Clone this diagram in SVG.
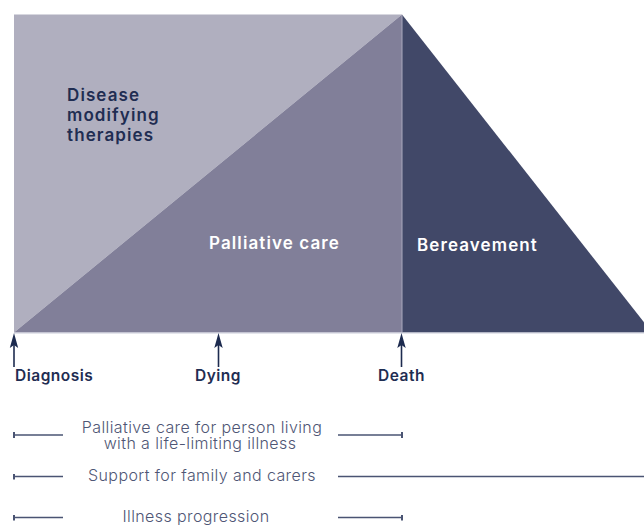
<svg xmlns="http://www.w3.org/2000/svg" width="644" height="525" viewBox="0 0 644 525">
<defs>
<style>
.lbl{font-family:Inter,"Open Sans","Liberation Sans",sans-serif;font-weight:600;font-size:17px;letter-spacing:1.1px;fill:#1f2d52}
.wl{fill:#ffffff}
.ev{font-family:Inter,"Open Sans","Liberation Sans",sans-serif;font-weight:600;font-size:15.5px;letter-spacing:0.5px;fill:#1f2d52}
.bt{font-family:Inter,"Open Sans","Liberation Sans",sans-serif;font-weight:300;font-size:16px;letter-spacing:0.4px;fill:#4f5675;text-anchor:middle}
.ln{stroke:#4a5473;stroke-width:1.5;fill:none}
.arr{stroke:#1d2b4f;stroke-width:1.6;fill:none}
</style>
<marker id="tick" markerWidth="2" markerHeight="6" refX="1" refY="3" orient="auto" markerUnits="userSpaceOnUse">
<rect x="0" y="0" width="2" height="6" fill="#4a5473"/>
</marker>
<path id="head" d="M0,0 L4.2,15 L0,12 L-4.2,15 Z" fill="#1d2b4f"/>
</defs>
<g id="disease-modifying">
<polygon points="14,14.5 402,14.5 14,332.5" fill="#b0afbf"/>
<text class="lbl" x="67" y="101">Disease</text>
<text class="lbl" x="67" y="121">modifying</text>
<text class="lbl" x="67" y="141">therapies</text>
</g>
<g id="palliative-care">
<polygon points="402,14.5 402,332.5 14,332.5" fill="#817f99"/>
<text class="lbl wl" x="209" y="249">Palliative care</text>
</g>
<g id="bereavement">
<polygon points="402,14.5 652,332.5 402,332.5" fill="#414868"/>
<text class="lbl wl" x="417" y="251">Bereavement</text>
</g>
<g id="dividers">
<line x1="402" y1="15" x2="402" y2="332.5" stroke="#a9a9bd" stroke-width="1"/>
<line x1="14" y1="333" x2="644" y2="333" stroke="#c9cbd9" stroke-width="1"/>
</g>
<g id="diagnosis">
<line class="arr" x1="14" y1="342" x2="14" y2="367"/>
<use href="#head" x="14" y="333"/>
<text class="ev" x="15" y="381">Diagnosis</text>
</g>
<g id="dying">
<line class="arr" x1="218.5" y1="342" x2="218.5" y2="367"/>
<use href="#head" x="218.5" y="333"/>
<text class="ev" x="195" y="381">Dying</text>
</g>
<g id="death">
<line class="arr" x1="401.5" y1="342" x2="401.5" y2="367"/>
<use href="#head" x="401.5" y="333"/>
<text class="ev" x="378" y="381">Death</text>
</g>
<g id="connectors">
<line class="ln" x1="14" y1="435" x2="63" y2="435" marker-start="url(#tick)"/>
<line class="ln" x1="338" y1="435" x2="402" y2="435" marker-end="url(#tick)"/>
<line class="ln" x1="14" y1="476.5" x2="63" y2="476.5" marker-start="url(#tick)"/>
<line class="ln" x1="338" y1="476.5" x2="644" y2="476.5"/>
<line class="ln" x1="14" y1="517.5" x2="63" y2="517.5" marker-start="url(#tick)"/>
<line class="ln" x1="338" y1="517.5" x2="402" y2="517.5" marker-end="url(#tick)"/>
</g>
<g id="palliative-living">
<text class="bt" x="202" y="433">Palliative care for person living</text>
<text class="bt" x="200" y="448.5">with a life-limiting illness</text>
</g>
<g id="support">
<text class="bt" x="202" y="481">Support for family and carers</text>
</g>
<g id="illness">
<text class="bt" x="196" y="522">Illness progression</text>
</g>
</svg>
